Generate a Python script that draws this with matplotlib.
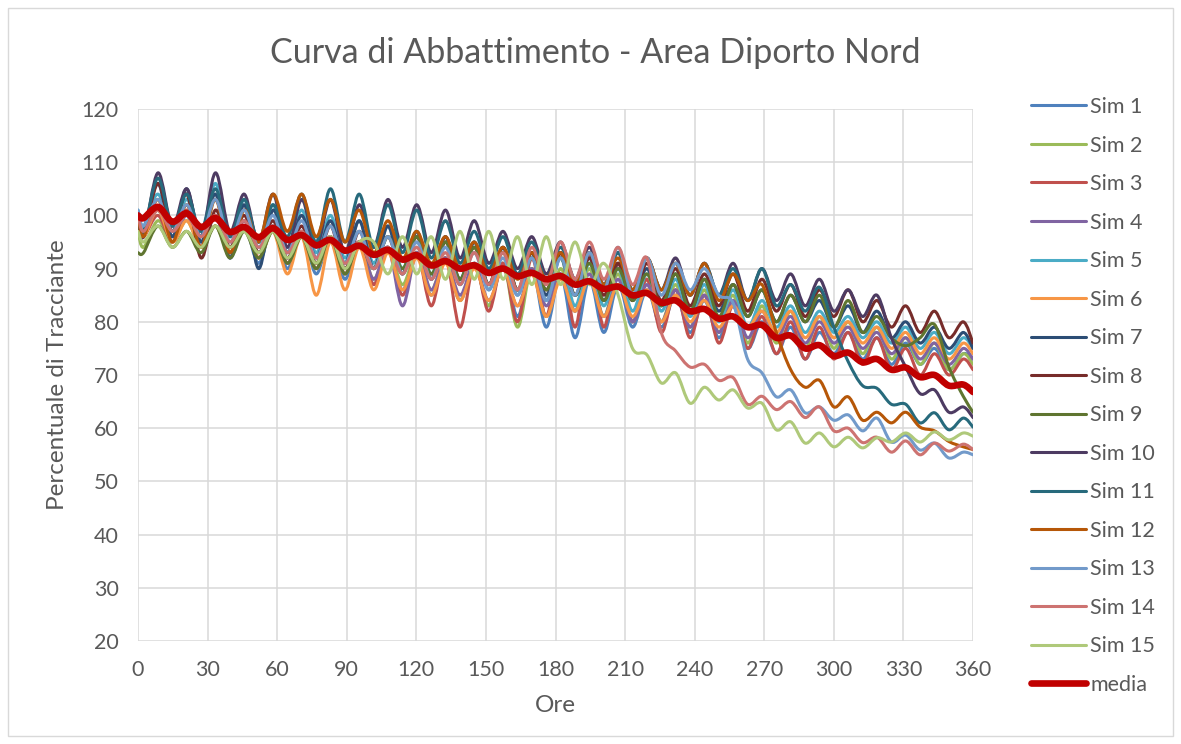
import numpy as np
import matplotlib
matplotlib.use("Agg")
import matplotlib.pyplot as plt
from matplotlib.path import Path
from matplotlib.patches import PathPatch, Rectangle
from matplotlib.lines import Line2D

plt.rcParams["font.family"] = ["Lato", "DejaVu Sans"]

# Sampling hours: start, then alternating trough/crest instants of the ~12.4 h tide, then end
hours = np.concatenate(([0.0], np.arange(2.4, 356.0, 6.2), [360.0]))

sim1 = [100, 96, 101, 95, 100, 94, 100, 92, 98, 91, 98, 90, 97, 89, 96, 88, 95, 87, 94, 86, 93,
        85, 92, 84, 91, 83, 91, 81, 90, 79, 89, 77, 88, 78, 87, 79, 86, 79, 85, 78, 84, 77, 83,
        75, 80, 74, 79, 73, 78, 74, 78, 73, 77, 72, 76, 72, 75, 71, 74, 73]
sim2 = [97, 94, 99, 95, 99, 94, 98, 93, 98, 92, 97, 91, 96, 90, 95, 89, 95, 88, 94, 87, 93,
        86, 92, 84, 91, 83, 91, 79, 90, 81, 90, 82, 90, 81, 89, 80, 88, 80, 87, 79, 86, 78, 85,
        76, 83, 76, 82, 75, 81, 75, 80, 74, 79, 73, 77, 72, 76, 71, 74, 72]
sim3 = [99, 96, 100, 95, 101, 94, 100, 93, 99, 92, 98, 91, 97, 90, 96, 89, 95, 87, 94, 85, 93,
        83, 92, 79, 91, 82, 91, 80, 92, 81, 93, 79, 93, 79, 91, 80, 88, 78, 86, 77, 85, 76, 83,
        75, 81, 74, 80, 73, 79, 73, 78, 72, 77, 71, 75, 70, 74, 70, 73, 71]
sim4 = [100, 97, 101, 96, 100, 95, 100, 94, 99, 93, 98, 92, 97, 91, 96, 90, 95, 88, 94, 83, 93,
        86, 92, 85, 91, 84, 90, 83, 90, 83, 89, 82, 89, 81, 88, 80, 87, 80, 86, 79, 85, 78, 84,
        77, 82, 77, 81, 76, 80, 76, 79, 75, 78, 74, 77, 73, 76, 72, 75, 73]
sim5 = [101, 98, 104, 97, 103, 97, 106, 96, 103, 95, 102, 94, 101, 93, 100, 92, 99, 91, 98, 90, 97,
        89, 96, 88, 95, 86, 94, 85, 93, 84, 92, 83, 91, 83, 90, 82, 89, 82, 88, 81, 87, 80, 86,
        79, 84, 79, 83, 78, 82, 78, 81, 77, 80, 76, 79, 75, 78, 74, 77, 75]
sim6 = [100, 96, 101, 95, 99, 94, 98, 93, 98, 92, 97, 89, 96, 85, 95, 86, 94, 86, 93, 86, 92,
        85, 91, 84, 90, 84, 90, 83, 89, 81, 88, 82, 88, 81, 87, 81, 86, 80, 85, 80, 84, 79, 83,
        79, 82, 78, 82, 77, 81, 77, 80, 76, 79, 75, 78, 74, 77, 73, 76, 74]
sim7 = [100, 97, 106, 96, 105, 95, 104, 92, 102, 90, 101, 93, 100, 92, 99, 91, 99, 90, 98, 89, 97,
        88, 96, 87, 95, 87, 94, 86, 93, 85, 93, 85, 92, 84, 91, 84, 90, 83, 89, 82, 88, 82, 87,
        81, 86, 80, 85, 80, 84, 79, 83, 78, 82, 77, 80, 76, 79, 75, 78, 75]
sim8 = [99, 96, 106, 97, 104, 92, 101, 94, 100, 93, 99, 92, 98, 91, 98, 90, 97, 90, 96, 89, 96,
        88, 95, 88, 94, 87, 94, 86, 93, 86, 93, 85, 92, 85, 91, 84, 91, 84, 90, 83, 89, 83, 89,
        82, 88, 82, 87, 81, 86, 81, 86, 80, 84, 79, 83, 78, 82, 77, 80, 76]
sim9 = [93, 93, 98, 94, 97, 93, 98, 92, 97, 92, 97, 91, 96, 90, 96, 89, 95, 90, 96, 90, 96,
        89, 95, 88, 94, 87, 93, 86, 92, 86, 92, 85, 91, 84, 90, 84, 89, 83, 89, 82, 88, 81, 87,
        81, 86, 80, 85, 80, 85, 79, 84, 78, 81, 77, 75.5, 77, 79.5, 71.5, 66, 63]
sim10 = [100, 96, 108, 98, 105, 96, 108, 97, 104, 95, 104, 94, 103, 94, 103, 93, 102, 94, 103, 94, 102,
         93, 101, 92, 99, 91, 97, 90, 96, 89, 95, 88, 94, 87, 93, 86, 92, 86, 92, 85, 91, 85, 91,
         84, 90, 84, 89, 83, 88, 82, 86, 81, 85, 77, 71.5, 66.5, 67.2, 63, 64, 62]
sim11 = [100, 97, 107, 98, 104, 97, 105, 96, 103, 95, 102, 96, 104, 95, 105, 95, 104, 94, 102, 93, 101,
         92, 99, 91, 97, 90, 96, 89, 95, 88, 94, 88, 93, 87, 93, 86, 92, 86, 91, 85, 91, 85, 90,
         84, 90, 83, 87, 82, 86.5, 79, 72.5, 68, 67.5, 64.5, 64.5, 61, 62.9, 59.7, 61.9, 60.2]
sim12 = [100, 96, 103, 95, 102, 94, 103, 93, 101, 95, 104, 97, 104, 96, 103, 95, 101, 93, 99, 92, 97,
         91, 96, 90, 95, 89, 94, 88, 93, 88, 93, 87, 93, 87, 92, 86, 92, 86, 91, 85, 91, 84, 89,
         84, 87, 78, 71, 67.7, 69, 64, 65.9, 61.5, 63, 61, 63, 60.2, 59.5, 57.5, 56.5, 56]
sim13 = [101, 98, 103, 97, 102, 96, 103, 95, 101, 94, 100, 93, 99, 92, 98, 91, 97, 90, 96, 89, 95,
         88, 94, 87, 93, 86, 92, 85, 92, 84, 92, 85, 93, 86, 94, 85, 92, 85, 91, 86, 90, 85, 83.5,
         73, 70.4, 65.9, 67.2, 62.9, 64, 61.5, 62.5, 59.5, 61.9, 57.4, 58.7, 55.9, 57.2, 54.4, 55.5, 55]
sim14 = [100, 97, 101, 97, 100, 96, 100, 95, 99, 94, 98, 93, 97, 92, 96, 91, 95, 90, 94, 89, 94,
         88, 93, 87, 93, 87, 93, 86, 94, 87, 95, 88, 95, 88, 94, 87, 92, 78, 74.5, 71.5, 72, 69, 69.5,
         64.5, 66, 63.5, 65, 62, 64, 59.5, 60, 57.3, 58.3, 55.5, 57.6, 55, 57.2, 55.7, 57, 56]
sim15 = [97, 95, 98, 94, 97, 94, 98, 94, 97, 93, 97, 92, 96, 91, 96, 90, 95, 95, 89, 96, 89,
         96, 88, 97, 88, 97, 88, 96, 87, 96, 87, 95, 87, 91, 85, 75, 73.8, 68.5, 70.4, 64.7, 67.7, 65.3, 67.2,
         63.8, 64.7, 59.7, 61.2, 57.2, 59.1, 56.5, 58.3, 56.3, 58.2, 57.4, 59.1, 57.4, 59.3, 57.8, 59.1, 58.5]
media = [100, 99.5, 101.6, 98.8, 100.4, 97.8, 99.5, 96.9, 97.8, 95.9, 97.6, 95.4, 96.3, 94.4, 95.4,
         93.4, 94.3, 92.6, 93.5, 91.7, 92.5, 90.6, 91.4, 90.0, 90.6, 89.2, 90.0, 88.6, 89.2, 88.0, 88.6,
         87.0, 87.6, 86.2, 86.6, 85.0, 85.4, 83.6, 84.0, 82.0, 82.4, 80.6, 81.0, 79.0, 79.4, 77.0, 77.4,
         75.0, 75.6, 73.6, 74.2, 72.4, 73.0, 71.0, 71.4, 69.6, 70.0, 68.0, 68.2, 66.8]

series = [sim1, sim2, sim3, sim4, sim5, sim6, sim7, sim8, sim9, sim10,
          sim11, sim12, sim13, sim14, sim15]
labels = [f"Sim {i}" for i in range(1, 16)] + ["media"]
colors = ["#4F81BD", "#9BBB59", "#C0504D", "#8064A2", "#4BACC6", "#F79646",
          "#2C4D75", "#772C2A", "#5F7530", "#4D3B62", "#276A7C", "#B65708",
          "#729ACA", "#CD7371", "#AFC97A", "#C00000"]

x_ticks = list(range(0, 361, 30))
y_ticks = list(range(20, 121, 10))

TEXT = "#595959"
GRID = "#D9D9D9"


def smooth_path(x, y):
    """Smoothed polyline (Catmull-Rom as cubic Bezier segments) through the samples."""
    pts = np.column_stack([x, y]).astype(float)
    n = len(pts)
    verts = [pts[0]]
    codes = [Path.MOVETO]
    for i in range(n - 1):
        p0 = pts[i - 1] if i > 0 else pts[i]
        p1, p2 = pts[i], pts[i + 1]
        p3 = pts[i + 2] if i + 2 < n else pts[i + 1]
        verts += [p1 + (p2 - p0) / 6.0, p2 - (p3 - p1) / 6.0, p2]
        codes += [Path.CURVE4] * 3
    return Path(verts, codes)


W, H = 1181, 744
fig = plt.figure(figsize=(W / 100, H / 100), dpi=100)
fig.patches.append(Rectangle((8 / W, 8 / H), 1 - 16 / W, 1 - 16 / H, transform=fig.transFigure,
                             fill=False, edgecolor=GRID, linewidth=1.0))

ax = fig.add_axes([138 / W, 1 - 641 / H, (973 - 138) / W, (641 - 109) / H])
ax.set_xlim(0, 360)
ax.set_ylim(20, 120)
ax.set_xticks(x_ticks)
ax.set_yticks(y_ticks)
ax.grid(True, color=GRID, linewidth=1.1)
ax.set_axisbelow(True)
for s in ax.spines.values():
    s.set_visible(False)
ax.tick_params(length=0, labelsize=15.5, labelcolor=TEXT)
ax.tick_params(axis="x", pad=14)
ax.tick_params(axis="y", pad=14)

handles = []
for vals, col, lab in zip(series + [media], colors, labels):
    lw = 4.8 if lab == "media" else 2.2
    patch = PathPatch(smooth_path(hours, vals), fill=False, edgecolor=col, linewidth=lw,
                      capstyle="round", joinstyle="round")
    ax.add_patch(patch)
    handles.append(Line2D([], [], color=col, linewidth=lw, solid_capstyle="round"))

fig.text(595 / W, 1 - 53 / H, "Curva di Abbattimento - Area Diporto Nord", ha="center",
         va="center", fontsize=24.5, color=TEXT)
fig.text(555 / W, 1 - 705 / H, "Ore", ha="center", va="center", fontsize=17.5, color=TEXT)
fig.text(58 / W, 1 - 375 / H, "Percentuale di Tracciante", ha="center", va="center",
         rotation=90, fontsize=17.5, color=TEXT)

fig.legend(handles, labels, loc="upper left", bbox_to_anchor=(1031 / W, 1 - 97 / H),
           frameon=False, fontsize=15.5, labelcolor=TEXT, handlelength=2.55,
           handletextpad=0.2, labelspacing=0.86, borderaxespad=0, borderpad=0)

fig.savefig("out.png", dpi=100)
